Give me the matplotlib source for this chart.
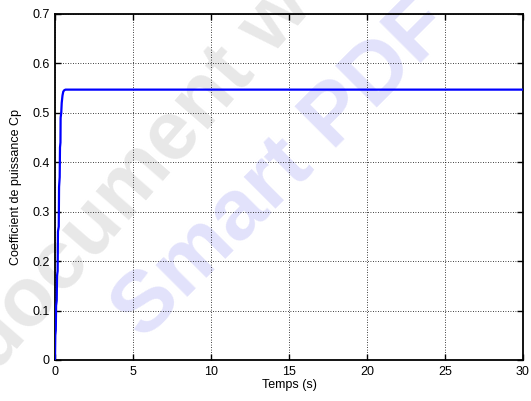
import matplotlib
matplotlib.use("Agg")
import matplotlib.pyplot as plt

# Power coefficient Cp versus time
temps = [0.0, 0.02, 0.05, 0.07, 0.11, 0.13, 0.17, 0.19, 0.24, 0.26, 0.30, 0.32,
         0.35, 0.36, 0.40, 0.43, 0.48, 0.53, 0.60, 0.68, 30.0]
cp = [0.0, 0.05, 0.06, 0.11, 0.12, 0.17, 0.18, 0.26, 0.27, 0.35, 0.37, 0.43,
      0.44, 0.49, 0.50, 0.52, 0.535, 0.543, 0.546, 0.547, 0.547]

x_ticks = [0, 5, 10, 15, 20, 25, 30]
y_ticks = [0, 0.1, 0.2, 0.3, 0.4, 0.5, 0.6, 0.7]
y_labels = ["0", "0.1", "0.2", "0.3", "0.4", "0.5", "0.6", "0.7"]

plt.rcParams["font.family"] = ["Liberation Sans", "DejaVu Sans"]
plt.rcParams["font.size"] = 9

fig = plt.figure(figsize=(5.31, 4.01), dpi=100)
ax = fig.add_axes([55 / 531, 41 / 401, 468 / 531, 346 / 401])
ax.patch.set_alpha(0)

# faint diagonal watermark texts behind the plot contents
fig.text(138 / 531, 1 - 176 / 401, "document w", rotation=49, rotation_mode="anchor",
         ha="center", va="center", fontsize=60, fontweight="bold",
         color="#e8e8e8", zorder=-5)
fig.text(283 / 531, 1 - 170 / 401, "Smart PDF", rotation=45, rotation_mode="anchor",
         ha="center", va="center", fontsize=62, fontweight="bold",
         color="#e2e2fb", zorder=-5)

ax.plot(temps, cp, color="#0000ff", lw=1.6, zorder=3)

ax.set_xlim(0, 30)
ax.set_ylim(0, 0.7)
ax.set_xticks(x_ticks)
ax.set_xticklabels([str(v) for v in x_ticks])
ax.set_yticks(y_ticks)
ax.set_yticklabels(y_labels)

ax.grid(True, color="black", linestyle=(0, (1, 2)), linewidth=0.6)
ax.tick_params(direction="in", length=4, width=1.0, top=True, right=True,
               labelsize=9, pad=4)
for s in ax.spines.values():
    s.set_linewidth(1.3)

ax.set_xlabel("Temps (s)", fontsize=9, labelpad=1)
ax.set_ylabel("Coefficient de puissance Cp", fontsize=9, labelpad=7)

fig.savefig("out.png", dpi=100)
